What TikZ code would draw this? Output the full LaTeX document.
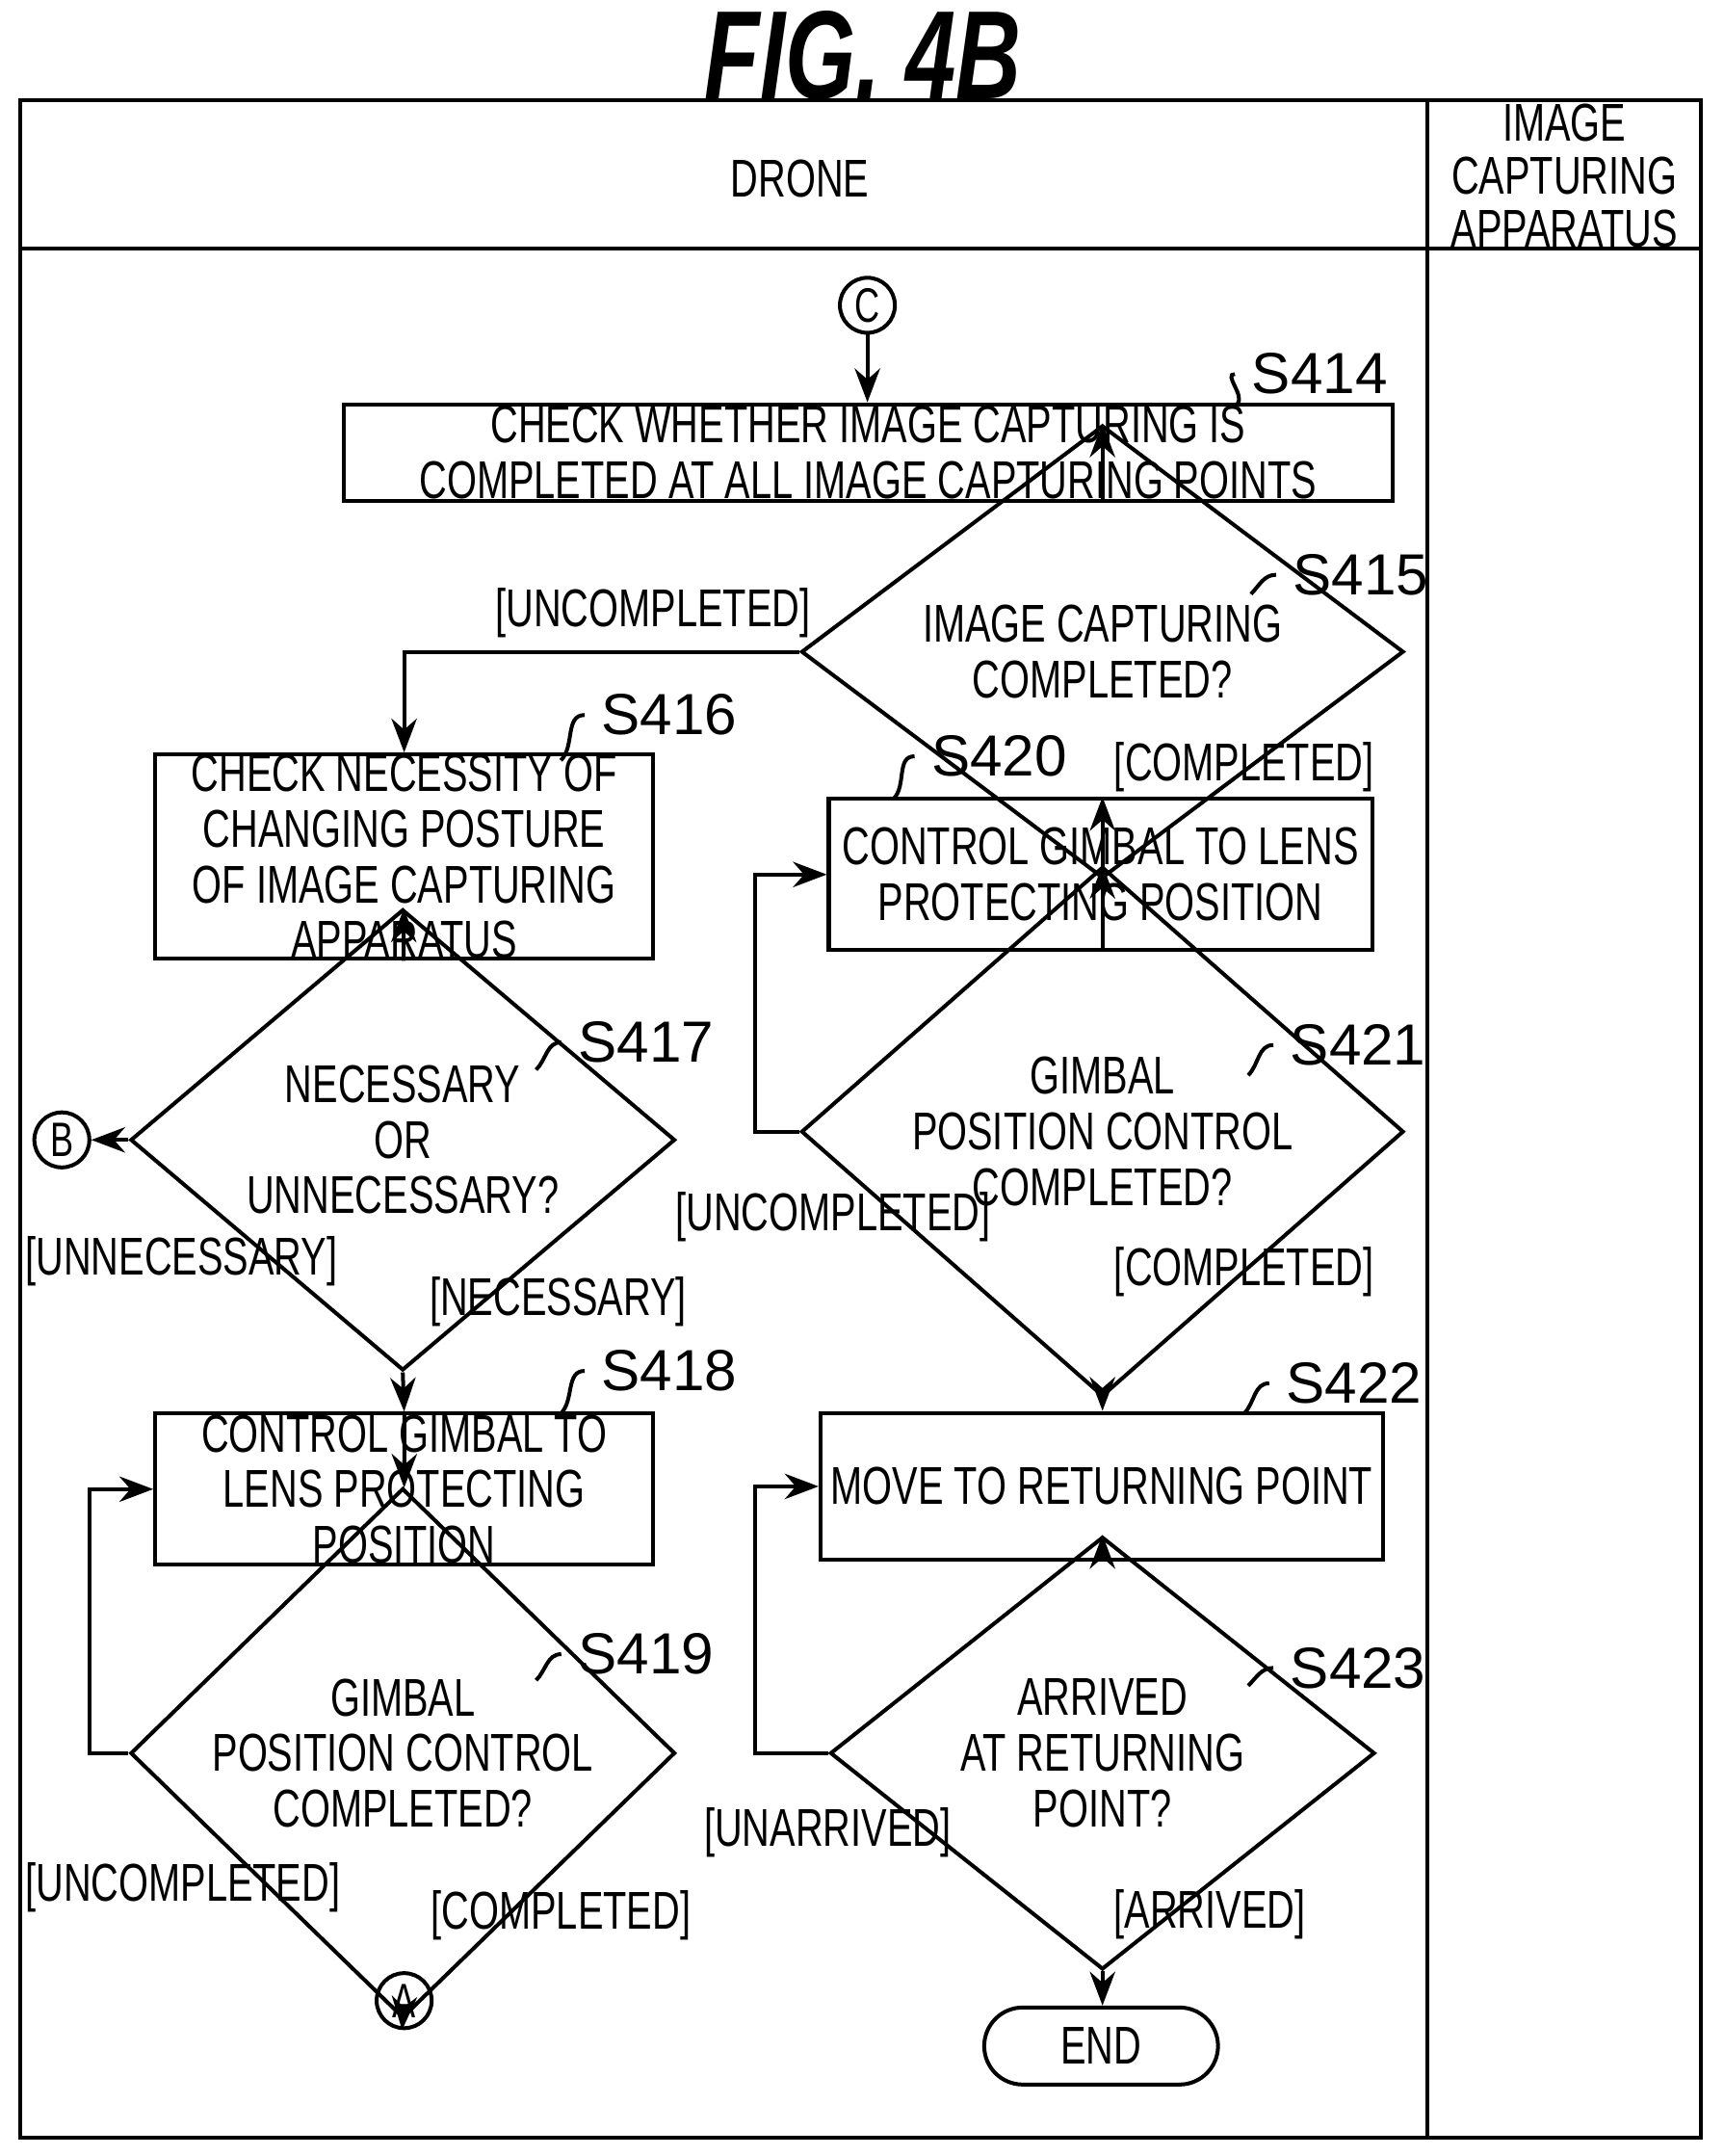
\documentclass[tikz,border=0pt]{standalone}
\usepackage{fontspec}
\setmainfont{Liberation Sans}[FakeStretch=0.72]
\newfontfamily\labfont{Liberation Sans}
\usetikzlibrary{
  arrows.meta,
  positioning,
  shapes.geometric,
  calc
}
\newcommand{\stepLab}[3]{\node[steplab] (#1) at (#2) {#3};}
\tikzset{
  every picture/.style={x=0.01cm,y=-0.01cm},
  proc/.style={draw, thick, align=center, inner sep=0pt, font=\fontsize{11}{11.5}\selectfont},
  dec/.style={draw, thick, diamond, align=center, inner sep=0pt, font=\fontsize{11}{11.5}\selectfont},
  conn/.style={draw, thick, circle, minimum size=0.4cm, inner sep=0pt, font=\fontsize{10}{10}\selectfont},
  steplab/.style={font=\labfont\fontsize{12}{12}\selectfont},
  guard/.style={font=\fontsize{11}{11}\selectfont},
  flow/.style={thick, -{Stealth[length=7pt]}}
}
\begin{document}
\begin{tikzpicture}
  \useasboundingbox (0,0) rectangle (1254,1568);
  \node[font=\rmfamily\bfseries\itshape\fontsize{26}{26}\selectfont] (title) at (628,40) {FIG. 4B};
  % swimlanes
  \draw[thick] (15,73) rectangle (1237,1555);
  \draw[thick] (1038,73) -- (1038,1555);
  \draw[thick] (15,181) -- (1237,181);
  \node[guard] (drone) at (582,130) {DRONE};
  \node[guard, align=center] (camera) at (1138,128) {IMAGE\\CAPTURING\\APPARATUS};

  % nodes
  \node[conn] (c) at (631,222) {C};
  \node[proc, minimum width=7.63cm, minimum height=0.7cm] (s414) at (631.5,329)
    {CHECK WHETHER IMAGE CAPTURING IS\\COMPLETED AT ALL IMAGE CAPTURING POINTS};
  \node[dec, minimum width=4.38cm, minimum height=1.32cm] (s415) at (802,474)
    {IMAGE CAPTURING\\COMPLETED?};
  \node[proc, minimum width=3.62cm, minimum height=1.4cm] (s416) at (294,623)
    {CHECK NECESSITY OF\\CHANGING POSTURE\\OF IMAGE CAPTURING\\APPARATUS};
  \node[dec, minimum width=3.96cm, minimum height=1.86cm] (s417) at (293,829)
    {NECESSARY\\OR\\UNNECESSARY?};
  \node[conn] (b) at (45,829) {B};
  \node[proc, minimum width=3.62cm, minimum height=1.1cm] (s418) at (294,1083)
    {CONTROL GIMBAL TO\\LENS PROTECTING\\POSITION};
  \node[dec, minimum width=3.96cm, minimum height=1.86cm] (s419) at (293,1275)
    {GIMBAL\\POSITION CONTROL\\COMPLETED?};
  \node[conn] (a) at (294,1455) {A};
  \node[proc, minimum width=3.95cm, minimum height=1.1cm] (s420) at (800.5,636)
    {CONTROL GIMBAL TO LENS\\PROTECTING POSITION};
  \node[dec, minimum width=4.38cm, minimum height=1.5cm] (s421) at (802,823)
    {GIMBAL\\POSITION CONTROL\\COMPLETED?};
  \node[proc, minimum width=4.09cm, minimum height=1.07cm] (s422) at (801.5,1081)
    {MOVE TO RETURNING POINT};
  \node[dec, minimum width=3.96cm, minimum height=1.86cm] (s423) at (802,1275)
    {ARRIVED\\AT RETURNING\\POINT?};
  \node[draw, thick, rounded corners=0.28cm, minimum width=1.7cm, minimum height=0.56cm,
    font=\fontsize{11}{11}\selectfont] (end) at (801,1488) {END};

  % step labels
  \stepLab{l414}{960,272}{S414}
  \stepLab{l415}{990,418}{S415}
  \stepLab{l416}{487,520}{S416}
  \stepLab{l417}{470,758}{S417}
  \stepLab{l418}{487,997}{S418}
  \stepLab{l419}{470,1203}{S419}
  \stepLab{l420}{727,550}{S420}
  \stepLab{l421}{988,760}{S421}
  \stepLab{l422}{985,1006}{S422}
  \stepLab{l423}{988,1213}{S423}
  \foreach \l/\p in {l414/{900,294}, l415/{910,432}, l416/{408,553}, l417/{390,778},
      l418/{408,1028}, l419/{390,1222}, l420/{650,581}, l421/{908,782},
      l422/{905,1028}, l423/{908,1226}}
    \draw[thick] (\l.west) to[out=180, in=45] (\p);

  % guards
  \node[guard] (g1) at (475,446) {[UNCOMPLETED]};
  \node[guard] (g2) at (905,558) {[COMPLETED]};
  \node[guard] (g3) at (132,917) {[UNNECESSARY]};
  \node[guard] (g4) at (406,947) {[NECESSARY]};
  \node[guard] (g5) at (133,1373) {[UNCOMPLETED]};
  \node[guard] (g6) at (408,1393) {[COMPLETED]};
  \node[guard] (g7) at (606,885) {[UNCOMPLETED]};
  \node[guard] (g8) at (905,925) {[COMPLETED]};
  \node[guard] (g9) at (602,1333) {[UNARRIVED]};
  \node[guard] (g10) at (880,1392) {[ARRIVED]};

  % connectors
  \draw[flow] (c) -- (c |- s414.north);
  \draw[flow] (s414.south -| s415) -- (s415.north);
  \draw[flow] (s415.west) -| (s416.north);
  \draw[flow] (s415.south) -- (s415.south |- s420.north);
  \draw[flow] (s416) -- (s417);
  \draw[flow] (s417.west) -- (b);
  \draw[flow] (s417.south) -- (s418.north);
  \draw[flow] (s418) -- (s419);
  \draw[flow] (s419.west) -- ++(-28,0) |- (s418.west);
  \draw[flow] (s419.south) -- (a);
  \draw[flow] (s420.south -| s421) -- (s421.north);
  \draw[flow] (s421.west) -- ++(-32,0) |- (s420.west);
  \draw[flow] (s421.south) -- (s421.south |- s422.north);
  \draw[flow] (s422.south -| s423) -- (s423.north);
  \draw[flow] (s423.west) -- ++(-53,0) |- (s422.west);
  \draw[flow] (s423.south) -- (s423.south |- end.north);
\end{tikzpicture}
\end{document}
